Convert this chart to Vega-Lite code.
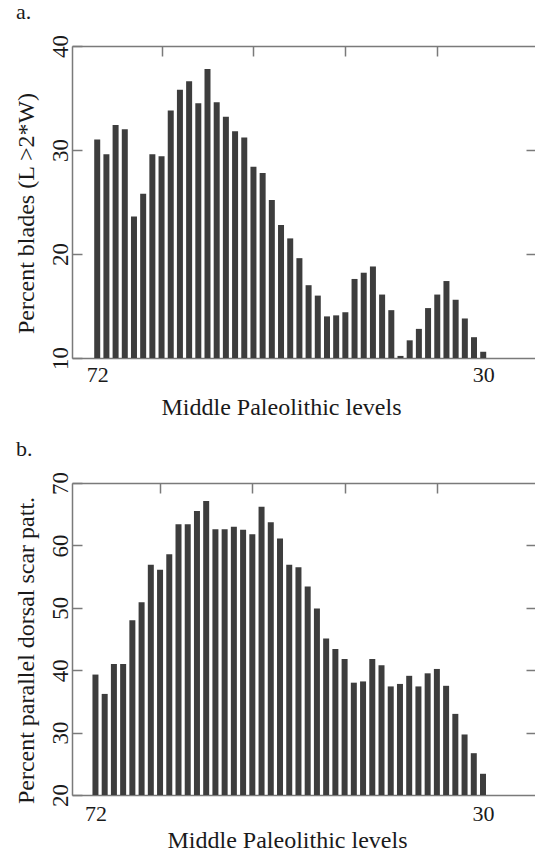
{
  "$schema": "https://vega.github.io/schema/vega-lite/v6.json",
  "autosize": {"type": "pad"},
  "padding": {"left": 14, "top": 0, "right": 0, "bottom": 0},
  "background": "white",
  "spacing": 125,
  "bounds": "flush",
  "config": {
    "view": {"stroke": null},
    "font": "Liberation Serif",
    "axis": {
      "labelFont": "Liberation Serif",
      "titleFont": "Liberation Serif",
      "labelColor": "#1a1a1a",
      "titleColor": "#1a1a1a",
      "titleFontWeight": "normal",
      "domainColor": "#7a7a7a",
      "tickColor": "#7a7a7a",
      "domainWidth": 1.5,
      "tickWidth": 1.5,
      "grid": false
    },
    "title": {"font": "Liberation Serif", "fontWeight": "normal", "fontSize": 22, "color": "#1a1a1a"}
  },
  "datasets": {
    "a": [
      {"level": 72, "pct": 31.0}, {"level": 71, "pct": 29.6}, {"level": 70, "pct": 32.4}, {"level": 69, "pct": 32.0},
      {"level": 68, "pct": 23.6}, {"level": 67, "pct": 25.8}, {"level": 66, "pct": 29.6}, {"level": 65, "pct": 29.4},
      {"level": 64, "pct": 33.8}, {"level": 63, "pct": 35.8}, {"level": 62, "pct": 36.6}, {"level": 61, "pct": 34.5},
      {"level": 60, "pct": 37.8}, {"level": 59, "pct": 34.6}, {"level": 58, "pct": 33.2}, {"level": 57, "pct": 31.8},
      {"level": 56, "pct": 31.2}, {"level": 55, "pct": 28.4}, {"level": 54, "pct": 27.8}, {"level": 53, "pct": 25.2},
      {"level": 52, "pct": 22.8}, {"level": 51, "pct": 21.5}, {"level": 50, "pct": 19.6}, {"level": 49, "pct": 17.0},
      {"level": 48, "pct": 16.0}, {"level": 47, "pct": 14.0}, {"level": 46, "pct": 14.1}, {"level": 45, "pct": 14.4},
      {"level": 44, "pct": 17.6}, {"level": 43, "pct": 18.2}, {"level": 42, "pct": 18.8}, {"level": 41, "pct": 16.1},
      {"level": 40, "pct": 14.6}, {"level": 39, "pct": 10.2}, {"level": 38, "pct": 11.7}, {"level": 37, "pct": 12.8},
      {"level": 36, "pct": 14.8}, {"level": 35, "pct": 16.1}, {"level": 34, "pct": 17.4}, {"level": 33, "pct": 15.6},
      {"level": 32, "pct": 13.8}, {"level": 31, "pct": 12.0}, {"level": 30, "pct": 10.6}
    ],
    "b": [
      {"level": 72, "pct": 39.3}, {"level": 71, "pct": 36.2}, {"level": 70, "pct": 41.0}, {"level": 69, "pct": 41.0},
      {"level": 68, "pct": 48.0}, {"level": 67, "pct": 50.9}, {"level": 66, "pct": 56.9}, {"level": 65, "pct": 56.1},
      {"level": 64, "pct": 58.6}, {"level": 63, "pct": 63.4}, {"level": 62, "pct": 63.4}, {"level": 61, "pct": 65.5},
      {"level": 60, "pct": 67.1}, {"level": 59, "pct": 62.6}, {"level": 58, "pct": 62.6}, {"level": 57, "pct": 63.0},
      {"level": 56, "pct": 62.5}, {"level": 55, "pct": 61.8}, {"level": 54, "pct": 66.2}, {"level": 53, "pct": 63.7},
      {"level": 52, "pct": 61.1}, {"level": 51, "pct": 56.9}, {"level": 50, "pct": 56.5}, {"level": 49, "pct": 53.4},
      {"level": 48, "pct": 49.9}, {"level": 47, "pct": 45.1}, {"level": 46, "pct": 43.4}, {"level": 45, "pct": 41.8},
      {"level": 44, "pct": 38.0}, {"level": 43, "pct": 38.2}, {"level": 42, "pct": 41.8}, {"level": 41, "pct": 40.8},
      {"level": 40, "pct": 37.4}, {"level": 39, "pct": 37.8}, {"level": 38, "pct": 39.1}, {"level": 37, "pct": 37.4},
      {"level": 36, "pct": 39.5}, {"level": 35, "pct": 40.2}, {"level": 34, "pct": 37.5}, {"level": 33, "pct": 33.0},
      {"level": 32, "pct": 29.7}, {"level": 31, "pct": 26.7}, {"level": 30, "pct": 23.4}
    ]
  },
  "vconcat": [
    {
      "title": {"text": "a.", "anchor": "start", "frame": "group", "dx": -56, "offset": -6, "baseline": "alphabetic"},
      "width": 464,
      "height": 312,
      "data": {"name": "a"},
      "layer": [
        {
          "mark": {"type": "bar", "size": 6, "color": "#3d3d3d"},
          "encoding": {
            "x": {"field": "level", "type": "quantitative",
                  "scale": {"domain": [24.8, 74.2], "reverse": true, "nice": false, "zero": false},
                  "axis": {"orient": "bottom", "values": [72, 30], "ticks": false, "labelFontSize": 22, "labelPadding": 6,
                           "title": "Middle Paleolithic levels", "titleFontSize": 24, "titlePadding": 10, "titleX": 209}},
            "y": {"field": "pct", "type": "quantitative",
                  "scale": {"domain": [10, 40], "nice": false, "zero": false},
                  "axis": {"orient": "left", "values": [10, 20, 30, 40], "tickSize": -10, "labelPadding": 10,
                           "labelAngle": 270, "labelAlign": "center", "labelBaseline": "bottom", "labelFontSize": 23,
                           "title": "Percent blades (L >2*W)", "titleFontSize": 24, "titlePadding": 11, "titleY": 167}},
            "y2": {"datum": 10}
          }
        },
        {
          "mark": {"type": "point", "opacity": 0},
          "encoding": {
            "x": {"field": "level", "type": "quantitative",
                  "axis": {"orient": "top", "values": [65, 55, 45, 35], "tickSize": -10, "labels": false, "title": null, "minExtent": 0, "maxExtent": 0}},
            "y": {"field": "pct", "type": "quantitative",
                  "axis": {"orient": "right", "values": [20, 30], "tickSize": -10, "labels": false, "domain": false, "title": null, "minExtent": 0, "maxExtent": 0}}
          }
        }
      ],
      "resolve": {"axis": {"x": "independent", "y": "independent"}}
    },
    {
      "title": {"text": "b.", "anchor": "start", "frame": "group", "dx": -56, "offset": -6, "baseline": "alphabetic"},
      "width": 464,
      "height": 312,
      "data": {"name": "b"},
      "layer": [
        {
          "mark": {"type": "bar", "size": 6, "color": "#3d3d3d"},
          "encoding": {
            "x": {"field": "level", "type": "quantitative",
                  "scale": {"domain": [24.8, 74.0], "reverse": true, "nice": false, "zero": false},
                  "axis": {"orient": "bottom", "values": [72, 30], "ticks": false, "labelFontSize": 22, "labelPadding": 8,
                           "title": "Middle Paleolithic levels", "titleFontSize": 24, "titlePadding": 4, "titleX": 215}},
            "y": {"field": "pct", "type": "quantitative",
                  "scale": {"domain": [20, 70], "nice": false, "zero": false},
                  "axis": {"orient": "left", "values": [20, 30, 40, 50, 60, 70], "tickSize": -10, "labelPadding": 10,
                           "labelAngle": 270, "labelAlign": "center", "labelBaseline": "bottom", "labelFontSize": 23,
                           "title": "Percent parallel dorsal scar patt.", "titleFontSize": 24, "titlePadding": 11, "titleY": 167}},
            "y2": {"datum": 20}
          }
        },
        {
          "mark": {"type": "point", "opacity": 0},
          "encoding": {
            "x": {"field": "level", "type": "quantitative",
                  "axis": {"orient": "top", "values": [65, 55, 45, 35], "tickSize": -10, "labels": false, "title": null, "minExtent": 0, "maxExtent": 0}},
            "y": {"field": "pct", "type": "quantitative",
                  "axis": {"orient": "right", "values": [30, 40, 50, 60], "tickSize": -10, "labels": false, "domain": false, "title": null, "minExtent": 0, "maxExtent": 0}}
          }
        }
      ],
      "resolve": {"axis": {"x": "independent", "y": "independent"}}
    }
  ]
}
